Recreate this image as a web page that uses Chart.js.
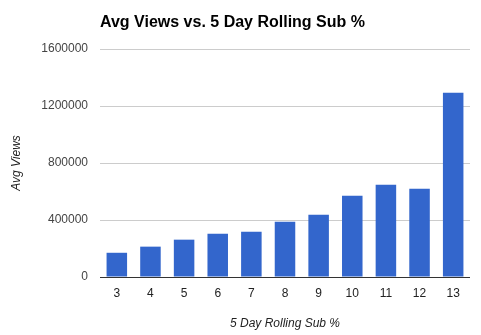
<!DOCTYPE html>
<html>
<head>
<meta charset="utf-8">
<script src="https://cdn.jsdelivr.net/npm/chart.js@4/dist/chart.umd.min.js"></script>
<style>
  html, body { margin: 0; padding: 0; background: #fff; }
  #wrap { width: 481px; height: 335px; }
</style>
</head>
<body>
<div id="wrap"><canvas id="myChart" width="481" height="335"></canvas></div>
<script>
const subPct = ['3', '4', '5', '6', '7', '8', '9', '10', '11', '12', '13'];
const avgViews = [170000, 213000, 262000, 304000, 318000, 388000, 437000, 571000, 648000, 620000, 1293000];
const yTicks = [0, 400000, 800000, 1200000, 1600000];

const FONT = '"Liberation Sans", Arial, sans-serif';

// title sits above the plot, left-aligned with it
const titlePlugin = {
    id: 'leftTitle',
    afterDraw(chart) {
        const c = chart.ctx;
        c.save();
        c.font = 'bold 16px ' + FONT;
        c.fillStyle = '#000';
        c.textBaseline = 'middle';
        c.fillText('Avg Views vs. 5 Day Rolling Sub %', chart.chartArea.left, 23);
        c.restore();
    }
};

const ctx = document.getElementById('myChart').getContext('2d');
const chart = new Chart(ctx, {
    type: 'bar',
    data: {
        labels: subPct,
        datasets: [{
            data: avgViews,
            backgroundColor: '#3366cc',
            barPercentage: 0.61,
            categoryPercentage: 1.0,
        }],
    },
    options: {
        responsive: false,
        animation: false,
        layout: {padding: {top: 49, right: 11, left: 0, bottom: 0}},
        plugins: {
            legend: {display: false},
            title: {display: false},
            tooltip: {enabled: false},
        },
        scales: {
            x: {
                grid: {display: false},
                border: {display: false},
                ticks: {color: '#222', font: {family: FONT, size: 12}, padding: 1},
                title: {
                    display: true,
                    text: '5 Day Rolling Sub %',
                    color: '#222',
                    font: {family: FONT, size: 12, style: 'italic'},
                    padding: {top: 18, bottom: 4},
                },
                afterFit(scale) { scale.height = 58; },
            },
            y: {
                min: 0,
                max: 1600000,
                afterBuildTicks(scale) { scale.ticks = yTicks.map(v => ({value: v})); },
                grid: {
                    color: c => c.tick && c.tick.value === 0 ? '#333' : '#cccccc',
                    drawTicks: false,
                },
                border: {display: false},
                ticks: {
                    color: '#444',
                    font: {family: FONT, size: 12},
                    padding: 12,
                    callback: v => String(v),
                },
                title: {
                    display: true,
                    text: 'Avg Views',
                    color: '#222',
                    font: {family: FONT, size: 12, style: 'italic'},
                    padding: {top: 9, bottom: 4},
                },
                afterFit(scale) { scale.width = 100; },
            },
        },
    },
    plugins: [titlePlugin],
});
</script>
</body>
</html>
